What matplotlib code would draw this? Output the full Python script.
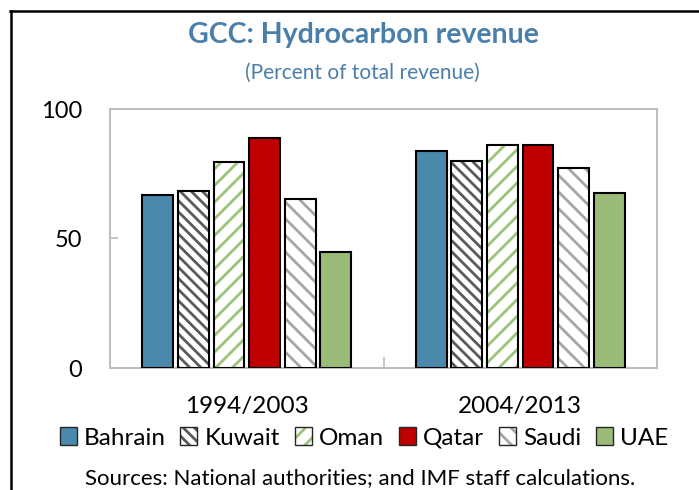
import numpy as np
import matplotlib
matplotlib.use("Agg")
import matplotlib.pyplot as plt
from matplotlib.patches import Patch
from matplotlib.lines import Line2D

plt.rcParams["font.family"] = ["Lato", "DejaVu Sans"]
plt.rcParams["hatch.linewidth"] = 2.0

periods = ["1994/2003", "2004/2013"]
countries = ["Bahrain", "Kuwait", "Oman", "Qatar", "Saudi", "UAE"]
values = {
    "Bahrain": [66.8, 83.8],
    "Kuwait": [68.4, 80.0],
    "Oman": [79.4, 86.0],
    "Qatar": [88.8, 86.0],
    "Saudi": [65.4, 77.2],
    "UAE": [44.9, 67.6],
}

# (face colour, hatch, hatch colour)
styles = {
    "Bahrain": ("#4a89ab", None, None),
    "Kuwait": ("white", "\\\\\\", "#5a5a5a"),
    "Oman": ("white", "//", "#9bc47a"),
    "Qatar": ("#c00000", None, None),
    "Saudi": ("white", "\\\\", "#a6a6a6"),
    "UAE": ("#9bbb78", None, None),
}

title_col = "#4a7eab"
spine_col = "#bfbfbf"

fig = plt.figure(figsize=(6.99, 4.90), dpi=100)
ax = fig.add_axes([110 / 699, 1 - 368 / 490, (657 - 110) / 699, (368 - 109) / 490])

x = np.arange(len(periods))
step = 0.13
width = 0.113
handles = []
for i, c in enumerate(countries):
    face, hatch, hcol = styles[c]
    pos = x + (i - 2.5) * step
    if hatch:
        ax.bar(pos, values[c], width, color=face, edgecolor=hcol, hatch=hatch, linewidth=0, zorder=2)
        ax.bar(pos, values[c], width, fill=False, edgecolor="black", linewidth=1.5, zorder=3)
        h = (Patch(facecolor=face, edgecolor=hcol, hatch=hatch, linewidth=0),
             Patch(fill=False, edgecolor="#262626", linewidth=1.0))
    else:
        ax.bar(pos, values[c], width, color=face, edgecolor="black", linewidth=1.5, zorder=3)
        h = Patch(facecolor=face, edgecolor="#262626", linewidth=1.0)
    handles.append(h)

ax.set_xlim(-0.5, 1.5)
ax.set_ylim(0, 100)
ax.set_yticks([0, 50, 100])
ax.set_xticks(x)
ax.set_xticklabels(periods)
ax.set_xticks([0.5], minor=True)
for s in ax.spines.values():
    s.set_color(spine_col)
    s.set_linewidth(1.5)
ax.tick_params(axis="y", direction="in", length=6, width=1.2, color=spine_col, pad=20, labelsize=17)
ax.tick_params(axis="x", which="major", length=0, pad=20, labelsize=17.5)
ax.tick_params(axis="x", which="minor", direction="in", length=8, width=1.2, color=spine_col)

fig.text(363 / 699, 1 - 35 / 490, "GCC: Hydrocarbon revenue", ha="center", va="center",
         fontsize=20.5, fontweight="bold", color=title_col)
fig.text(362 / 699, 1 - 73 / 490, "(Percent of total revenue)", ha="center", va="center",
         fontsize=15, color=title_col)
fig.text(360 / 699, 1 - 478 / 490, "Sources: National authorities; and IMF staff calculations.",
         ha="center", va="center", fontsize=16)

fig.legend(handles, countries, loc="center", bbox_to_anchor=(364 / 699, 1 - 438 / 490), ncol=6,
           frameon=False, fontsize=17.5, handlelength=0.7, handleheight=0.7,
           handletextpad=0.3, columnspacing=0.6, borderaxespad=0)

# black frame around the exhibit (runs off the right and bottom edges)
fig.add_artist(Line2D([10 / 699, 1.01], [1 - 11 / 490, 1 - 11 / 490], transform=fig.transFigure,
                      color="black", linewidth=1.8))
fig.add_artist(Line2D([10.5 / 699, 10.5 / 699], [1 - 11 / 490, -0.01], transform=fig.transFigure,
                      color="black", linewidth=1.8))

fig.savefig("out.png", dpi=100)
